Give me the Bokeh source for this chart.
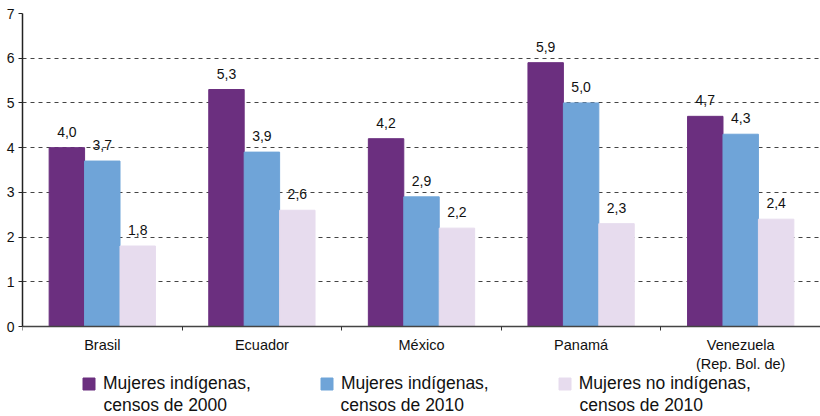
from bokeh.plotting import figure
from bokeh.models import (ColumnDataSource, Range1d, FixedTicker, Legend, LegendItem,
                          LabelSet, Label)
from bokeh.core.properties import value
from bokeh.embed import file_html
from bokeh.resources import INLINE

categories = ["Brasil", "Ecuador", "México", "Panamá", "Venezuela\n(Rep. Bol. de)"]
ind_2000 = [4.0, 5.3, 4.2, 5.9, 4.7]
ind_2010 = [3.7, 3.9, 2.9, 5.0, 4.3]
noind_2010 = [1.8, 2.6, 2.2, 2.3, 2.4]
series_line1 = ["Mujeres indígenas,", "Mujeres indígenas,", "Mujeres no indígenas,"]
series_line2 = ["censos de 2000", "censos de 2010", "censos de 2010"]
colors = ["#6B2F7F", "#6FA4D8", "#E7DCEE"]
y_ticks = [0, 1, 2, 3, 4, 5, 6, 7]

FONT = "Liberation Sans"
W, H = 820, 416
TOP, LEFT = 13, 22          # frame offsets (px)
AXIS_PX = 313               # pixel height of the 0..7 span
LEG_TEXT_X = [103, 340, 579]  # px where legend second lines start
LEG_LINE2_Y = 404             # px anchor of legend second lines
n = len(categories)
centers = [i + 0.5 for i in range(n)]
bar_w = 0.222
ymax = y_ticks[-1]
ymin = -(H - TOP - AXIS_PX) * ymax / AXIS_PX   # room below the axis for labels + legend


def px_to_x(px):
    return (px - LEFT) * n / (W - LEFT)


def px_to_y(py):
    return ymax - (py - TOP) * ymax / AXIS_PX


p = figure(width=W, height=H, output_backend="svg", toolbar_location=None,
           x_range=Range1d(0, n), y_range=Range1d(ymin, ymax),
           min_border_left=LEFT, min_border_right=0, min_border_top=TOP, min_border_bottom=0)
p.outline_line_color = None
p.background_fill_color = "white"

# y axis
p.yaxis.ticker = FixedTicker(ticks=y_ticks)
p.yaxis.bounds = (0, ymax)
p.yaxis.axis_line_color = "#222222"
p.yaxis.axis_line_width = 1.5
p.yaxis.major_tick_line_color = "#222222"
p.yaxis.major_tick_out = 4
p.yaxis.major_tick_in = 0
p.yaxis.minor_tick_line_color = None
p.yaxis.major_label_standoff = 4
p.yaxis.major_label_text_font = FONT
p.yaxis.major_label_text_font_size = "14px"
p.yaxis.major_label_text_color = "#111111"

# x axis fixed at y = 0
xa = p.xaxis[0]
xa.fixed_location = 0
xa.ticker = FixedTicker(ticks=centers, minor_ticks=list(range(n + 1)))
xa.major_label_overrides = {c: lab for c, lab in zip(centers, categories)}
xa.major_tick_line_color = None
xa.major_tick_out = 4
xa.minor_tick_line_color = "#333333"
xa.minor_tick_out = 4
xa.minor_tick_in = 0
xa.axis_line_color = "#444444"
xa.axis_line_width = 1.5
xa.major_label_standoff = 6
xa.major_label_text_font = FONT
xa.major_label_text_font_size = "14.5px"
xa.major_label_text_color = "#111111"

p.xgrid.grid_line_color = None
p.ygrid.ticker = FixedTicker(ticks=y_ticks[1:])
p.ygrid.grid_line_color = "#444444"
p.ygrid.grid_line_dash = "4 4"
p.ygrid.grid_line_width = 1

items = []
for k, (vals, name, col) in enumerate(zip([ind_2000, ind_2010, noind_2010], series_line1, colors)):
    xs = [c + (k - 1) * bar_w for c in centers]
    src = ColumnDataSource(dict(x=xs, top=vals,
                                lab=[f"{v:.1f}".replace(".", ",") for v in vals]))
    r = p.vbar(x="x", top="top", width=bar_w, bottom=0, source=src,
               fill_color=col, line_color=col)
    items.append(LegendItem(label=name, renderers=[r]))
    p.add_layout(LabelSet(x="x", y="top", text="lab", source=src, y_offset=11,
                          text_align="center", text_baseline="alphabetic",
                          text_font=value(FONT), text_font_size=value("14px"),
                          text_color="#111111"))

legend = Legend(items=items, orientation="horizontal", location=(59, 22),
                glyph_width=15, glyph_height=15, label_standoff=7, spacing=68,
                padding=0, margin=0, border_line_color=None, background_fill_alpha=0,
                label_text_font=FONT, label_text_font_size="17.5px",
                label_text_color="#111111", label_text_line_height=1.3)
p.add_layout(legend)

for tx, line2 in zip(LEG_TEXT_X, series_line2):
    p.add_layout(Label(x=px_to_x(tx), y=px_to_y(LEG_LINE2_Y), text=line2,
                       text_align="left", text_baseline="alphabetic",
                       text_font=FONT, text_font_size="17.5px", text_color="#111111"))

open("out.html", "w").write(file_html(p, INLINE))
